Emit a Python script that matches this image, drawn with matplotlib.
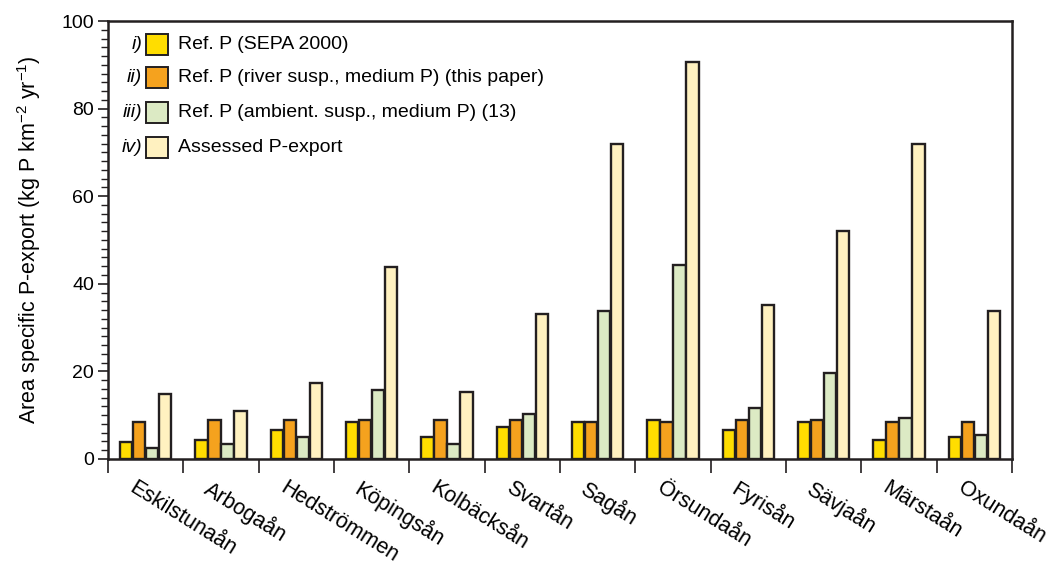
import numpy as np
import matplotlib
matplotlib.use("Agg")
import matplotlib.pyplot as plt
from matplotlib.patches import Rectangle
from matplotlib.ticker import MultipleLocator
import matplotlib.transforms as mtransforms

plt.rcParams['font.family'] = ['Liberation Sans', 'DejaVu Sans']
plt.rcParams['mathtext.fontset'] = 'custom'
plt.rcParams['mathtext.rm'] = 'Liberation Sans'
plt.rcParams['mathtext.it'] = 'Liberation Sans:italic'

rivers = ['Eskilstunaån', 'Arbogaån', 'Hedströmmen', 'Köpingsån', 'Kolbäcksån',
          'Svartån', 'Sagån', 'Örsundaån', 'Fyrisån', 'Sävjaån', 'Märstaån',
          'Oxundaån']

# kg P km-2 yr-1 per river
sepa = [3.8, 4.3, 6.6, 8.5, 5.0, 7.4, 8.5, 9.0, 6.6, 8.5, 4.3, 5.0]
river_susp = [8.5, 9.0, 9.0, 9.0, 9.0, 9.0, 8.5, 8.5, 9.0, 9.0, 8.5, 8.5]
ambient_susp = [2.6, 3.4, 5.0, 15.7, 3.4, 10.2, 33.8, 44.3, 11.7, 19.7, 9.4, 5.4]
assessed = [14.9, 11.0, 17.3, 43.8, 15.3, 33.1, 71.9, 90.6, 35.2, 52.1, 71.9, 33.8]

series = [sepa, river_susp, ambient_susp, assessed]
colors = ['#FFDD00', '#F5A21E', '#DCEAC4', '#FFF1C0']
numerals = ['i)', 'ii)', 'iii)', 'iv)']
labels = ['Ref. P (SEPA 2000)',
          'Ref. P (river susp., medium P) (this paper)',
          'Ref. P (ambient. susp., medium P) (13)',
          'Assessed P-export']
edge = '#231F20'

fig = plt.figure(figsize=(10.53, 5.68), dpi=100)
ax = fig.add_axes([0.1026, 0.192, 0.8585, 0.771])

x = np.arange(len(rivers))
w = 0.172
for k, vals in enumerate(series):
    ax.bar(x + (k - 1.5) * w, vals, width=w * 0.95, color=colors[k],
           edgecolor=edge, linewidth=1.7, zorder=2)

ax.set_xlim(-0.5, len(rivers) - 0.5)
ax.set_ylim(0, 100)

# group separators as ticks on the x axis
ax.set_xticks(np.arange(len(rivers) + 1) - 0.5)
ax.set_xticklabels([])
ax.tick_params(axis='x', direction='out', length=10, width=1.2, color=edge)

ax.yaxis.set_major_locator(MultipleLocator(20))
ax.yaxis.set_minor_locator(MultipleLocator(2))
ax.tick_params(axis='y', which='major', direction='out', length=7, width=1.2,
               labelsize=14, color=edge, pad=3)
ax.tick_params(axis='y', which='minor', direction='out', length=5, width=1.0,
               color=edge)
for s in ax.spines.values():
    s.set_linewidth(1.8)
    s.set_color(edge)

ax.set_ylabel(r'Area specific P-export (kg P km$^{\mathregular{-2}}$ yr$^{\mathregular{-1}}$)',
              fontsize=15.5, labelpad=13)

# rotated river names under each group
trans = mtransforms.blended_transform_factory(ax.transData, ax.transAxes)
trans = mtransforms.offset_copy(trans, fig=fig, x=0, y=-18, units='dots')
for i, name in enumerate(rivers):
    ax.text(i - 0.12, 0, name, transform=trans, rotation=-32,
            rotation_mode='anchor', ha='left', va='top', fontsize=15.5)

# legend drawn by hand so the roman numerals sit left of the swatches
row_y = [0.947, 0.870, 0.792, 0.712]
for k in range(4):
    ax.add_patch(Rectangle((0.0417, row_y[k] - 0.024), 0.0243, 0.048,
                           transform=ax.transAxes, facecolor=colors[k],
                           edgecolor=edge, linewidth=1.4, clip_on=False))
    ax.text(0.038, row_y[k], numerals[k], transform=ax.transAxes,
            ha='right', va='center', fontsize=14, style='italic')
    ax.text(0.077, row_y[k], labels[k], transform=ax.transAxes,
            ha='left', va='center', fontsize=14)

fig.savefig('out.png', dpi=100)
